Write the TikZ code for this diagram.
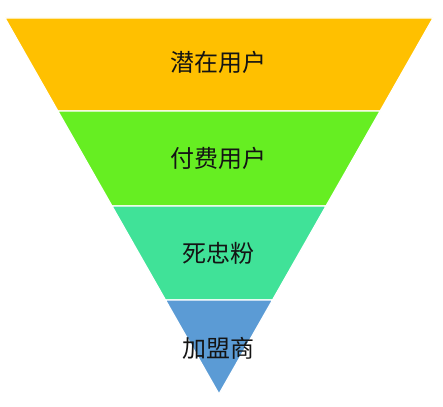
\documentclass[tikz,border=0pt]{standalone}
\usepackage{fontspec}
\newfontfamily\cjk{Noto Sans CJK SC}
\definecolor{bandA}{RGB}{255,192,0}
\definecolor{bandB}{RGB}{102,238,34}
\definecolor{bandC}{RGB}{64,226,152}
\definecolor{bandD}{RGB}{91,155,213}
\definecolor{txt}{RGB}{20,20,20}
\begin{document}
\begin{tikzpicture}[x=1pt,y=-1pt,
  band/.style={draw=white,line width=1.2pt,line join=miter},
  lbl/.style={font=\cjk\fontsize{24}{28}\selectfont,text=txt,inner sep=0pt}]
\useasboundingbox (0,0) rectangle (443,406);
\fill[white] (0,0) rectangle (443,406);
\filldraw[band,fill=bandA] (5,18) -- (433,18) -- (380.1,111) -- (57.9,111) -- cycle;
\filldraw[band,fill=bandB] (57.9,111) -- (380.1,111) -- (326,206) -- (112,206) -- cycle;
\filldraw[band,fill=bandC] (112,206) -- (326,206) -- (272.5,300) -- (165.5,300) -- cycle;
\filldraw[band,fill=bandD] (165.5,300) -- (272.5,300) -- (219,394) -- cycle;
\node[lbl] (t1) at (218,62) {潜在用户};
\node[lbl] (t2) at (218,158) {付费用户};
\node[lbl] (t3) at (218,253) {死忠粉};
\node[lbl] (t4) at (218,348) {加盟商};
\end{tikzpicture}
\end{document}
